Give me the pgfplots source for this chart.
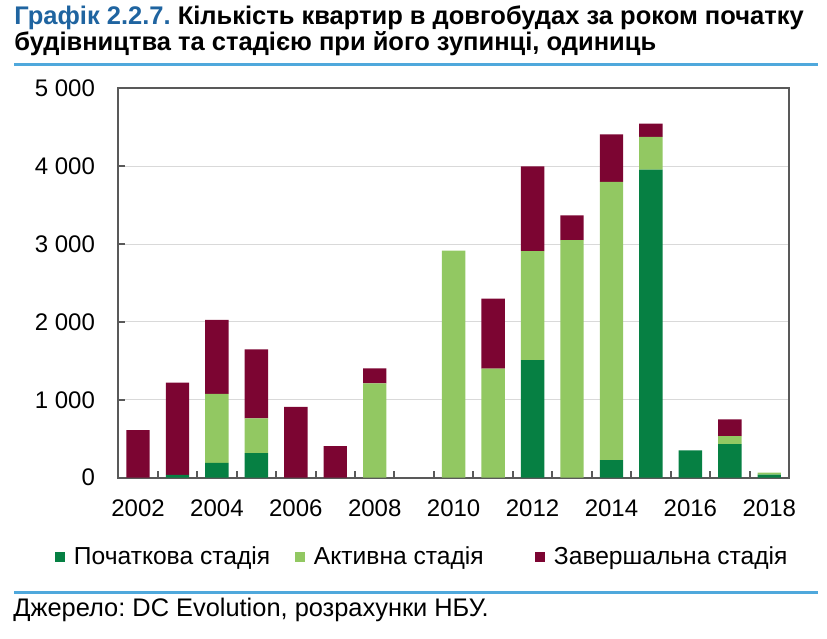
\documentclass[border=0pt]{standalone}
\usepackage{fontspec}
\setmainfont{Liberation Sans}
\usepackage{pgfplots}
\usepackage{pgfplotstable}
\pgfplotsset{compat=1.18}
\definecolor{cdark}{RGB}{6,128,67}
\definecolor{clight}{RGB}{146,200,98}
\definecolor{cmaroon}{RGB}{124,5,50}
\definecolor{ctitle}{RGB}{31,100,160}
\definecolor{crule}{RGB}{79,168,220}
\definecolor{cframe}{RGB}{89,89,89}
\definecolor{cgrid}{RGB}{217,217,217}

\pgfplotstableread{
year early active final
2002 0 0 610
2003 35 0 1185
2004 190 885 950
2005 317 445 885
2006 0 0 910
2007 0 0 405
2008 0 1210 195
2009 0 0 0
2010 0 2915 0
2011 0 1400 900
2012 1510 1400 1087
2013 0 3050 320
2014 227 3570 610
2015 3955 420 170
2016 350 0 0
2017 432 103 214
2018 38 26 0
}\datatable

\begin{document}
\frenchspacing
\begin{tikzpicture}
\path[use as bounding box] (0,0) rectangle (413.5pt,319.5pt);
\node[anchor=base west, inner sep=0pt, font=\fontsize{12.75}{13}\selectfont\bfseries] at (7pt,307pt) {\textcolor{ctitle}{Графік 2.2.7.} Кількість квартир в довгобудах за роком початку};
\node[anchor=base west, inner sep=0pt, font=\fontsize{12.75}{13}\selectfont\bfseries] at (7pt,294pt) {будівництва та стадією при його зупинці, одиниць};
\draw[crule, line width=1.5pt] (7pt,287pt) -- (409pt,287pt);
\draw[crule, line width=1.5pt] (7pt,23pt) -- (409pt,23pt);
\node[anchor=base west, inner sep=0pt, font=\fontsize{12.7}{14}\selectfont] at (6.5pt,11pt) {Джерело: DC Evolution, розрахунки НБУ.};
\begin{axis}[
  at={(59.15pt,80.65pt)}, anchor=south west,
  scale only axis, width=335.35pt, height=194.7pt,
  ybar stacked, bar width=11.7pt,
  xmin=2001.5, xmax=2018.5, ymin=0, ymax=5000,
  xtick={2002.5,2003.5,...,2017.5}, xticklabels={},
  extra x ticks={2002,2004,...,2018},
  extra x tick style={major tick length=0pt, grid=none},
  ytick={0,1000,...,5000},
  yticklabels={0,1\ 000,2\ 000,3\ 000,4\ 000,5\ 000},
  tick align=inside, xtick pos=bottom, ytick pos=left,
  major tick length=3.5pt,
  ymajorgrids, grid style={cgrid, line width=0.5pt},
  axis line style={cframe, line width=1pt},
  tick style={cframe, line width=1pt},
  /pgf/number format/assume math mode=true,
  /pgf/number format/1000 sep={},
  ticklabel style={font=\fontsize{12}{14}\selectfont, inner sep=0pt},
  yticklabel style={xshift=-11.5pt},
  xticklabel style={yshift=-11pt},
  legend columns=3,
  legend style={draw=none, fill=none, inner sep=0pt, outer sep=0pt,
    at={(axis description cs:-0.0944,-0.204)}, anchor=west,
    font=\fontsize{12.3}{14}\selectfont,
    nodes={inner xsep=0pt, inner ysep=1pt},
    /tikz/every odd column/.append style={column sep=4.5pt},
    /tikz/every even column/.append style={column sep=0pt}},
  legend cell align=left,
]
\addplot[fill=cdark, draw=none, legend image code/.code={\fill[cdark] (0pt,-2.5pt) rectangle (5pt,2.5pt);}] table[x=year,y=early]{\datatable};
\addplot[fill=clight, draw=none, legend image code/.code={\fill[clight] (0pt,-2.5pt) rectangle (5pt,2.5pt);}] table[x=year,y=active]{\datatable};
\addplot[fill=cmaroon, draw=none, legend image code/.code={\fill[cmaroon] (0pt,-2.5pt) rectangle (5pt,2.5pt);}] table[x=year,y=final]{\datatable};
\legend{\makebox[110.5pt][l]{Початкова стадія}, \makebox[110.5pt][l]{Активна стадія}, Завершальна стадія}
\end{axis}
\end{tikzpicture}
\end{document}
